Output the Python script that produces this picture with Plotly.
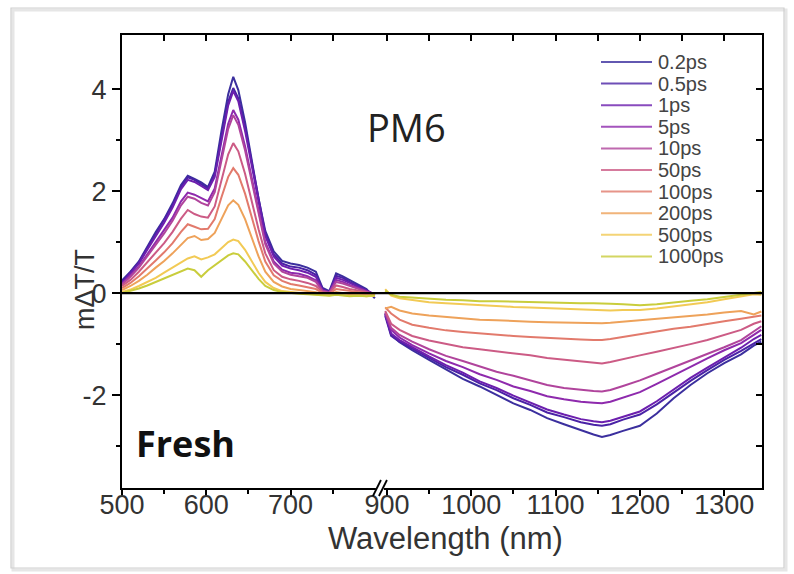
import plotly.graph_objects as go

# Pump-probe delays and their line colours
delays = ["0.2ps", "0.5ps", "1ps", "5ps", "10ps", "50ps", "100ps", "200ps", "500ps", "1000ps"]
colors = ["#3b2f9e", "#4a22a6", "#6c1fae", "#8e2aad", "#b0449c",
          "#cc5b85", "#e27a6c", "#eea25a", "#f2ca55", "#c9cd3c"]

# Visible probe window (nm)
wl_vis = [500, 510, 520, 530, 540, 550, 560, 570, 578, 586, 594, 602, 610, 618, 626, 632,
          638, 646, 654, 662, 670, 680, 690, 700, 710, 720, 730, 738, 746, 754, 762, 770,
          780, 790, 800]
# NIR probe window (nm)
wl_nir = [898, 905, 915, 930, 950, 970, 990, 1010, 1030, 1050, 1070, 1090, 1110, 1130,
          1145, 1155, 1165, 1180, 1200, 1220, 1240, 1260, 1280, 1300, 1320, 1335, 1344]

# mΔT/T in the visible window
vis_0p2 = [0.25, 0.42, 0.62, 0.92, 1.20, 1.45, 1.76, 2.12, 2.30, 2.24, 2.17, 2.08, 2.38, 3.18, 3.90, 4.24,
           3.98, 3.35, 2.62, 1.85, 1.22, 0.82, 0.63, 0.58, 0.55, 0.50, 0.42, 0.10, 0.04, 0.39, 0.33, 0.26,
           0.17, 0.08, -0.10]
vis_0p5 = [0.22, 0.40, 0.60, 0.88, 1.16, 1.42, 1.72, 2.08, 2.27, 2.22, 2.14, 2.05, 2.33, 3.08, 3.75, 4.02,
           3.82, 3.25, 2.55, 1.80, 1.16, 0.76, 0.58, 0.52, 0.50, 0.45, 0.36, 0.08, 0.02, 0.34, 0.30, 0.22,
           0.14, 0.06, -0.05]
vis_1 = [0.20, 0.38, 0.58, 0.85, 1.12, 1.38, 1.68, 2.04, 2.22, 2.18, 2.10, 2.02, 2.28, 3.00, 3.68, 3.96,
         3.76, 3.18, 2.50, 1.75, 1.12, 0.72, 0.54, 0.48, 0.45, 0.40, 0.32, 0.06, 0.02, 0.30, 0.26, 0.20,
         0.12, 0.05, -0.02]
vis_5 = [0.18, 0.34, 0.52, 0.76, 1.00, 1.22, 1.48, 1.80, 1.97, 1.93, 1.86, 1.80, 2.05, 2.70, 3.32, 3.59,
         3.40, 2.88, 2.25, 1.58, 1.00, 0.62, 0.46, 0.40, 0.38, 0.33, 0.25, 0.05, 0.02, 0.26, 0.22, 0.16,
         0.10, 0.04, -0.02]
vis_10 = [0.17, 0.32, 0.50, 0.72, 0.96, 1.17, 1.42, 1.72, 1.89, 1.85, 1.77, 1.72, 1.98, 2.62, 3.22, 3.49,
          3.30, 2.80, 2.18, 1.52, 0.96, 0.58, 0.42, 0.36, 0.33, 0.30, 0.22, 0.04, 0.01, 0.22, 0.19, 0.14,
          0.08, 0.03, -0.02]
vis_50 = [0.14, 0.26, 0.42, 0.60, 0.80, 0.98, 1.20, 1.46, 1.63, 1.55, 1.50, 1.48, 1.70, 2.22, 2.72, 2.94,
          2.78, 2.34, 1.80, 1.25, 0.78, 0.45, 0.32, 0.27, 0.24, 0.20, 0.14, 0.02, 0.00, 0.15, 0.12, 0.08,
          0.05, 0.02, -0.03]
vis_100 = [0.10, 0.20, 0.33, 0.48, 0.64, 0.80, 0.98, 1.20, 1.35, 1.30, 1.25, 1.26, 1.45, 1.88, 2.28, 2.45,
           2.32, 1.95, 1.48, 1.02, 0.62, 0.35, 0.24, 0.18, 0.15, 0.12, 0.08, 0.00, -0.02, 0.08, 0.06, 0.04,
           0.02, 0.00, -0.04]
vis_200 = [0.06, 0.14, 0.24, 0.36, 0.50, 0.63, 0.78, 0.95, 1.08, 1.12, 1.04, 1.06, 1.18, 1.45, 1.72, 1.82,
           1.73, 1.45, 1.08, 0.72, 0.42, 0.22, 0.13, 0.08, 0.06, 0.04, 0.02, -0.02, -0.03, 0.02, 0.00, -0.02,
           -0.03, -0.02, -0.05]
vis_500 = [0.02, 0.07, 0.14, 0.22, 0.30, 0.40, 0.50, 0.60, 0.68, 0.72, 0.66, 0.70, 0.76, 0.88, 1.00, 1.05,
           1.02, 0.85, 0.62, 0.40, 0.22, 0.10, 0.04, 0.02, 0.00, -0.01, -0.02, -0.03, -0.04, -0.02, -0.03,
           -0.05, -0.04, -0.06, -0.05]
vis_1000 = [0.00, 0.04, 0.09, 0.15, 0.22, 0.28, 0.35, 0.42, 0.48, 0.45, 0.32, 0.45, 0.55, 0.64, 0.74, 0.78,
            0.76, 0.62, 0.45, 0.28, 0.14, 0.06, 0.02, 0.00, -0.01, -0.02, -0.03, -0.04, -0.05, -0.03, -0.04,
            -0.06, -0.05, -0.06, -0.04]

# mΔT/T in the NIR window
nir_0p2 = [-0.40, -0.82, -0.96, -1.12, -1.31, -1.49, -1.68, -1.83, -1.99, -2.16, -2.29, -2.45, -2.57, -2.69,
           -2.77, -2.82, -2.78, -2.70, -2.60, -2.36, -2.06, -1.80, -1.57, -1.37, -1.20, -1.03, -0.95]
nir_0p5 = [-0.45, -0.84, -0.95, -1.09, -1.27, -1.45, -1.60, -1.77, -1.90, -2.06, -2.19, -2.34, -2.43, -2.53,
           -2.58, -2.60, -2.57, -2.48, -2.38, -2.18, -1.95, -1.72, -1.51, -1.31, -1.13, -0.98, -0.90]
nir_1 = [-0.42, -0.79, -0.92, -1.06, -1.24, -1.41, -1.56, -1.73, -1.86, -2.01, -2.14, -2.28, -2.38, -2.47,
         -2.51, -2.53, -2.50, -2.42, -2.32, -2.12, -1.89, -1.66, -1.46, -1.26, -1.07, -0.90, -0.82]
nir_5 = [-0.40, -0.72, -0.87, -1.02, -1.18, -1.33, -1.45, -1.59, -1.70, -1.83, -1.92, -2.02, -2.08, -2.13,
         -2.15, -2.16, -2.13, -2.05, -1.94, -1.78, -1.61, -1.45, -1.28, -1.12, -0.98, -0.82, -0.72]
nir_10 = [-0.38, -0.68, -0.82, -0.95, -1.10, -1.23, -1.33, -1.44, -1.54, -1.62, -1.71, -1.80, -1.86, -1.90,
          -1.92, -1.93, -1.90, -1.82, -1.71, -1.58, -1.45, -1.33, -1.20, -1.06, -0.92, -0.75, -0.65]
nir_50 = [-0.35, -0.60, -0.72, -0.84, -0.93, -1.00, -1.06, -1.10, -1.14, -1.17, -1.22, -1.27, -1.30, -1.33,
          -1.36, -1.38, -1.35, -1.30, -1.22, -1.15, -1.08, -1.00, -0.92, -0.82, -0.72, -0.60, -0.55]
nir_100 = [-0.28, -0.40, -0.52, -0.62, -0.68, -0.73, -0.76, -0.79, -0.82, -0.84, -0.86, -0.88, -0.90, -0.91,
           -0.92, -0.92, -0.90, -0.86, -0.80, -0.75, -0.70, -0.66, -0.60, -0.55, -0.50, -0.46, -0.44]
nir_200 = [-0.30, -0.27, -0.34, -0.40, -0.44, -0.47, -0.50, -0.52, -0.53, -0.55, -0.56, -0.57, -0.58, -0.59,
           -0.59, -0.59, -0.58, -0.56, -0.53, -0.50, -0.47, -0.45, -0.42, -0.38, -0.35, -0.42, -0.36]
nir_500 = [0.08, -0.05, -0.10, -0.14, -0.18, -0.20, -0.22, -0.24, -0.25, -0.27, -0.28, -0.29, -0.31, -0.32,
           -0.33, -0.33, -0.34, -0.33, -0.33, -0.30, -0.26, -0.23, -0.18, -0.12, -0.06, -0.02, -0.03]
nir_1000 = [0.05, -0.03, -0.07, -0.09, -0.11, -0.13, -0.14, -0.16, -0.16, -0.17, -0.18, -0.19, -0.19, -0.20,
            -0.20, -0.20, -0.21, -0.22, -0.24, -0.22, -0.18, -0.15, -0.12, -0.08, -0.03, 0.00, 0.02]

vis_series = [vis_0p2, vis_0p5, vis_1, vis_5, vis_10, vis_50, vis_100, vis_200, vis_500, vis_1000]
nir_series = [nir_0p2, nir_0p5, nir_1, nir_5, nir_10, nir_50, nir_100, nir_200, nir_500, nir_1000]

# Axis settings
y_range = [-3.82, 5.06]
vis_range = [500, 806]
nir_range = [891.7, 1344.8]
split = 0.403  # fraction of the plot width given to the visible window

FONT = "Liberation Sans, Arial, sans-serif"
TICK_FONT = dict(family=FONT, size=27, color="#333333")

# plot area in pixels: left 122, right 762, top 35, bottom 488
PL, PT, PW, PH = 122, 35, 640, 453


def px(x):
    return (x - PL) / PW


def py(y):
    return (PT + PH - y) / PH


fig = go.Figure()

for name, col, yv, yn in zip(delays, colors, vis_series, nir_series):
    fig.add_trace(go.Scatter(x=wl_vis, y=yv, mode="lines", name=name, legendgroup=name,
                             showlegend=False, line=dict(color=col, width=2),
                             xaxis="x", yaxis="y"))
    fig.add_trace(go.Scatter(x=wl_nir, y=yn, mode="lines", name=name, legendgroup=name,
                             showlegend=False, line=dict(color=col, width=2),
                             xaxis="x2", yaxis="y"))

# empty traces so the mirrored tick axes are drawn
for xa, ya in [("x3", "y"), ("x4", "y"), ("x2", "y2")]:
    fig.add_trace(go.Scatter(x=[None], y=[None], xaxis=xa, yaxis=ya, showlegend=False,
                             hoverinfo="skip"))

axis_common = dict(showgrid=False, zeroline=False, showline=True, linecolor="black",
                   linewidth=2, tickcolor="black", tickwidth=1.5)

fig.update_layout(
    width=794, height=574,
    margin=dict(l=PL, r=794 - PL - PW, t=PT, b=574 - PT - PH),
    paper_bgcolor="white", plot_bgcolor="white",
    font=dict(family=FONT, color="#333333"),
    showlegend=False,
    xaxis=dict(domain=[0, split], range=vis_range, anchor="y", ticks="outside", ticklen=6,
               tickvals=[500, 600, 700], tickfont=TICK_FONT, mirror=True,
               ticklabelstandoff=-14,
               minor=dict(tickvals=[550, 650, 750], ticks="outside", ticklen=4,
                          tickcolor="black"), **axis_common),
    xaxis2=dict(domain=[split, 1], range=nir_range, anchor="y", ticks="outside", ticklen=6,
                tickvals=[900, 1000, 1100, 1200, 1300], tickfont=TICK_FONT, mirror=True,
                ticklabelstandoff=-14,
                minor=dict(tickvals=[950, 1050, 1150, 1250], ticks="outside", ticklen=4,
                           tickcolor="black"), **axis_common),
    xaxis3=dict(overlaying="x", side="top", anchor="y", range=vis_range, showgrid=False,
                zeroline=False, showline=False, ticks="inside", ticklen=6, tickcolor="black",
                tickwidth=1.5, showticklabels=False, tickvals=[500, 550, 600, 650, 700, 750]),
    xaxis4=dict(overlaying="x2", side="top", anchor="y", range=nir_range, showgrid=False,
                zeroline=False, showline=False, ticks="inside", ticklen=6, tickcolor="black",
                tickwidth=1.5, showticklabels=False,
                tickvals=[900, 950, 1000, 1050, 1100, 1150, 1200, 1250, 1300]),
    yaxis=dict(range=y_range, anchor="x", ticks="outside", ticklen=8,
               tickvals=[-2, 0, 2, 4], ticktext=["-2", "0", "2", "4"], tickfont=TICK_FONT,
               minor=dict(tickvals=[-3, -1, 1, 3], ticks="outside", ticklen=4,
                          tickcolor="black"), **axis_common),
    yaxis2=dict(overlaying="y", side="right", anchor="x2", range=y_range, showgrid=False,
                zeroline=False, showline=True, linecolor="black", linewidth=2,
                ticks="inside", ticklen=6, tickcolor="black", tickwidth=1.5,
                showticklabels=False, tickvals=[-3, -2, -1, 0, 1, 2, 3, 4]),
)

# zero baseline across both windows
fig.add_shape(type="line", xref="paper", yref="y", x0=0, x1=1, y0=0, y1=0,
              line=dict(color="black", width=2.2))

# axis break marks between the two windows
bx = PL + split * PW
fig.add_shape(type="rect", xref="paper", yref="paper", x0=px(bx - 4), x1=px(bx + 4),
              y0=py(PT + PH + 3), y1=py(PT + PH - 3), fillcolor="white", line=dict(width=0),
              layer="above")
for dx in (-3, 3):
    fig.add_shape(type="line", xref="paper", yref="paper",
                  x0=px(bx + dx - 4), y0=py(PT + PH + 8),
                  x1=px(bx + dx + 4), y1=py(PT + PH - 8),
                  line=dict(color="black", width=1.8), layer="above")

# legend: line sample + label per delay
for i, (name, col) in enumerate(zip(delays, colors)):
    ry = 62 + 21.6 * i
    fig.add_shape(type="line", xref="paper", yref="paper", x0=px(601), x1=px(652),
                  y0=py(ry), y1=py(ry), line=dict(color=col, width=2), opacity=0.8)
    fig.add_annotation(text=name, xref="paper", yref="paper", x=px(656), y=py(ry),
                       xanchor="left", yanchor="middle", showarrow=False,
                       font=dict(family=FONT, size=20, color="#444444"))

# outer frame of the figure
fig.add_shape(type="rect", xref="paper", yref="paper",
              x0=px(13), x1=px(786), y0=py(570), y1=py(10),
              line=dict(color="#e6e6e6", width=3), fillcolor="rgba(0,0,0,0)", layer="below")
fig.add_shape(type="rect", xref="paper", yref="paper",
              x0=px(11), x1=px(784), y0=py(568), y1=py(8),
              line=dict(color="#cfcfcf", width=1.2), fillcolor="rgba(0,0,0,0)", layer="below")

# labels
fig.add_annotation(text="PM6", xref="paper", yref="paper", x=px(406), y=py(127),
                   xanchor="center", yanchor="middle", showarrow=False,
                   font=dict(family="Open Sans, sans-serif", size=38, color="#222222"))
fig.add_annotation(text="<b>Fresh</b>", xref="paper", yref="paper", x=px(185), y=py(443),
                   xanchor="center", yanchor="middle", showarrow=False,
                   font=dict(family="Open Sans, sans-serif", size=36, color="#111111"))
fig.add_annotation(text="Wavelength (nm)", xref="paper", yref="paper", x=px(445), y=py(538),
                   xanchor="center", yanchor="middle", showarrow=False,
                   font=dict(family=FONT, size=31, color="#333333"))
fig.add_annotation(text="mΔT/T", xref="paper", yref="paper", x=px(85), y=py(290),
                   xanchor="center", yanchor="middle", showarrow=False, textangle=-90,
                   font=dict(family=FONT, size=27, color="#333333"))

fig.write_html("out.html")
